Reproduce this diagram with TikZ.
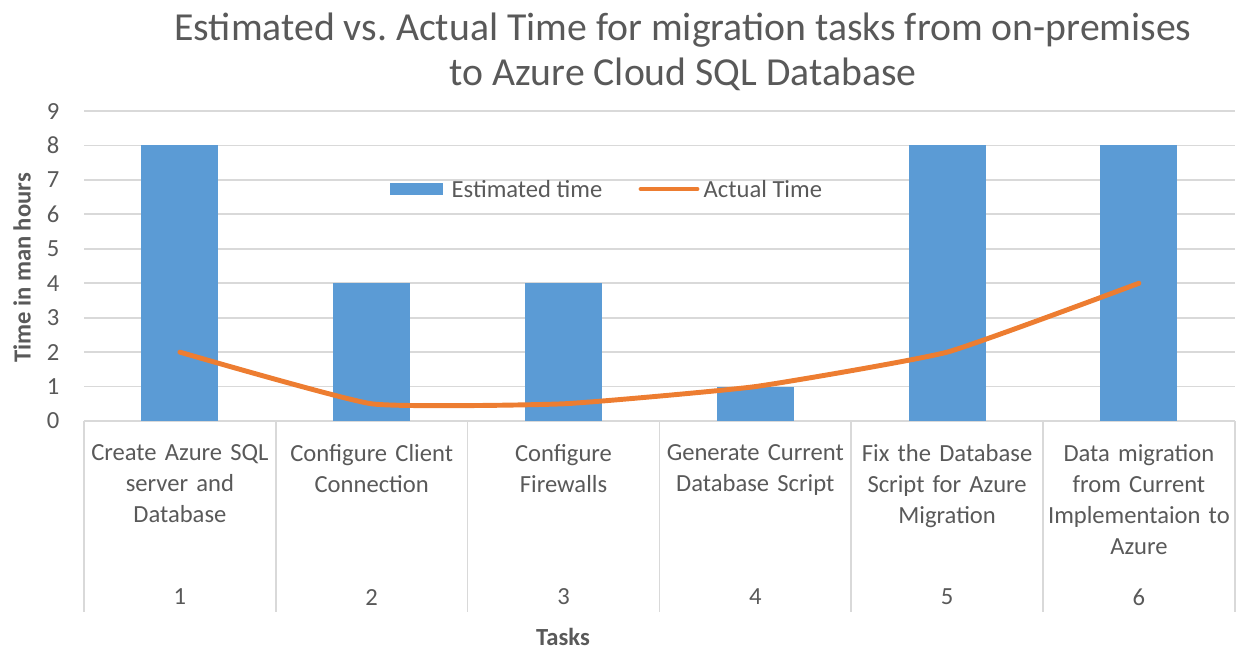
\documentclass[tikz,border=0pt]{standalone}
\usepackage{fontspec}
\setmainfont{Carlito}

\definecolor{barblue}{HTML}{5B9BD5}
\definecolor{lineorange}{HTML}{ED7D31}
\definecolor{textgray}{HTML}{595959}
\definecolor{gridgray}{HTML}{D9D9D9}

\begin{document}
\begin{tikzpicture}[
            declare function={
                CatW=1.918;
                UnitH=0.3444;
                BarW=0.77;
                Width=6*CatW;
                Drop=1.91;
            },
            ticklabel/.style={text=textgray, font=\fontsize{7.0}{8.8}\selectfont, inner sep=0pt},
            gridline/.style={draw=gridgray, line width=0.5pt}
        ]
            \useasboundingbox (-0.84, -2.27) rectangle (11.55, 4.21);

            % title
            \node[text=textgray, align=center, font=\fontsize{11.3}{12.8}\selectfont] (title) at (5.99, 3.69)
                {Estimated vs.\ Actual Time for migration tasks from on-premises\\to Azure Cloud SQL Database};

            % grid and value labels
            \foreach \k in {1,...,9}
                \draw[gridline] (0, {\k*UnitH}) -- (Width, {\k*UnitH});
            \foreach \k in {0,...,9}
                \node[ticklabel, anchor=east] (val\k) at (-0.24, {\k*UnitH}) {\k};
            \node[text=textgray, rotate=90, font=\fontsize{7.0}{8.8}\selectfont\bfseries] (ylabel) at (-0.62, 1.53) {Time in man hours};

            % category axis
            \draw[gridline] (0, 0) -- (Width, 0);
            \foreach \i in {0,...,6}
                \draw[gridline] ({\i*CatW}, 0) -- ({\i*CatW}, -Drop);

            % estimated time bars, labels
            \foreach \i/\est/\task in {
                    1/8/{Create Azure SQL\\server and\\Database},
                    2/4/{Configure Client\\Connection},
                    3/4/{Configure\\Firewalls},
                    4/1/{Generate Current\\Database Script},
                    5/8/{Fix the Database\\Script for Azure\\Migration},
                    6/8/{Data migration\\from Current\\Implementaion to\\Azure}} {
                \fill[barblue] ({(\i-0.5)*CatW - BarW/2}, 0) rectangle ({(\i-0.5)*CatW + BarW/2}, {\est*UnitH});
                \node[ticklabel, anchor=north, align=center, text width=1.88cm] (task\i) at ({(\i-0.5)*CatW}, -0.23) {\task};
                \node[ticklabel] (num\i) at ({(\i-0.5)*CatW}, -1.76) {\i};
            }
            \node[text=textgray, font=\fontsize{7.0}{8.8}\selectfont\bfseries] (xlabel) at (4.79, -2.16) {Tasks};

            % actual time
            \coordinate (act1) at ({0.5*CatW}, {2*UnitH});
            \coordinate (act2) at ({1.5*CatW}, {0.5*UnitH});
            \coordinate (act3) at ({2.5*CatW}, {0.5*UnitH});
            \coordinate (act4) at ({3.5*CatW}, {1*UnitH});
            \coordinate (act5) at ({4.5*CatW}, {2*UnitH});
            \coordinate (act6) at ({5.5*CatW}, {4*UnitH});
            \draw[lineorange, line width=1.4pt, line cap=round, line join=round] plot[smooth, tension=0.25]
                coordinates {(act1) (act2) (act3) (act4) (act5) (act6)};

            % legend
            \fill[barblue] (3.06, 2.26) rectangle (3.59, 2.38);
            \node[ticklabel, anchor=west] (legest) at (3.67, 2.32) {Estimated time};
            \draw[lineorange, line width=1.4pt, line cap=round] (5.57, 2.32) -- (6.13, 2.32);
            \node[ticklabel, anchor=west] (legact) at (6.19, 2.32) {Actual Time};
        \end{tikzpicture}
\end{document}
